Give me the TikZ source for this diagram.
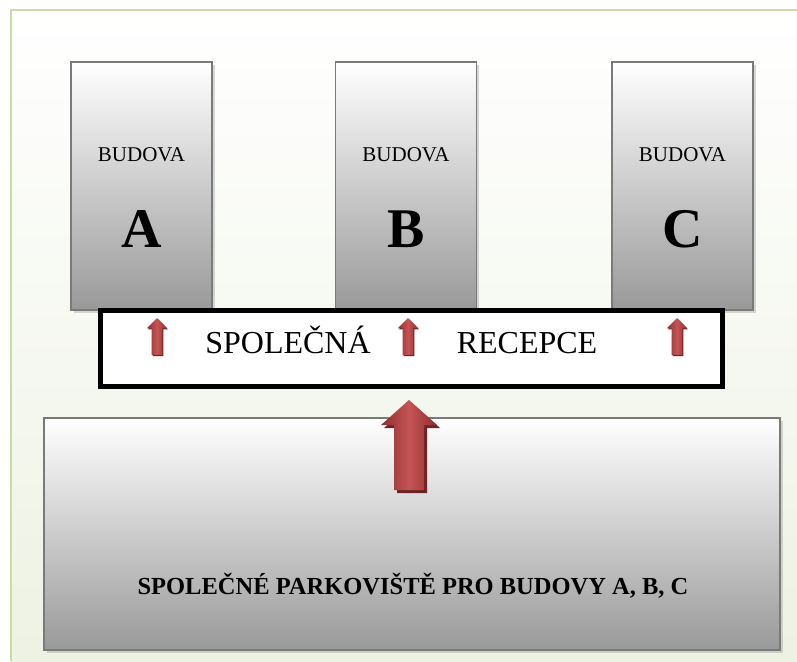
\documentclass[tikz,border=0pt]{standalone}
\usepackage{fontspec}
\setmainfont{Liberation Serif}
\usetikzlibrary{shadows}
\definecolor{framegreen}{HTML}{C9DBAA}
\definecolor{bgbottom}{HTML}{EDF2E3}
\definecolor{boxgray}{HTML}{7A7A7A}
\definecolor{arrowdark}{HTML}{8E2F2F}
\definecolor{arrowlight}{HTML}{C65454}
\definecolor{arrowshade}{HTML}{6E2424}
\tikzset{
    blockarrow/.pic={
        \fill[arrowshade] (3,3) -- (31,28) -- (18,28) -- (18,93) -- (-12,93) -- (-12,28) -- (-25,28) -- cycle;
        \path[left color=arrowdark, right color=arrowdark, middle color=arrowlight]
            (0,0) -- (28,25) -- (15,25) -- (15,90) -- (-15,90) -- (-15,25) -- (-28,25) -- cycle;
    }
}
\begin{document}
\begin{tikzpicture}[
        x=1pt, y=-1pt,
        semithick ,
        bldg/.style ={ draw=boxgray, line width=1.6pt, top color=white, bottom color=black!40,
            minimum width=141pt, minimum height=248pt, inner sep=0pt,
            drop shadow={opacity=.3, shadow xshift=2.5pt, shadow yshift=-2.5pt}},
        bldgname/.style ={ font=\fontsize{21}{24}\selectfont},
        bldgletter/.style ={ font=\fontsize{56}{60}\selectfont\bfseries},
        bigtext/.style ={ font=\fontsize{32}{36}\selectfont, anchor=base},
    ]
    \useasboundingbox (0,0) rectangle (797,661);
    % background
    \path[top color=white, bottom color=bgbottom] (11,10) rectangle (797,661);
    \draw[framegreen, line width=1.2pt] (11,661) -- (11,10) -- (797,10);

    % buildings
    \node[bldg] (bA) at (141.5,186) {};
    \node[bldg] (bB) at (406,186) {};
    \node[bldg] (bC) at (682.5,186) {};
    \foreach \b/\l in {bA/A, bB/B, bC/C} {
        \node[bldgname] at ([yshift=-94pt]\b.north) {BUDOVA};
        \node[bldgletter] at ([yshift=-168pt]\b.north) {\l};
    }

    % reception
    \node[draw=black, line width=5pt, fill=white, minimum width=622pt, minimum height=76pt] (recep) at (411.5,348.5) {};
    \node[bigtext] (tSpol) at (288,353) {SPOLEČNÁ};
    \node[bigtext] (tRec) at (527,353) {RECEPCE};
    \foreach \x in {157, 408, 677}
        \pic[xscale=.36, yscale=.41] at (\x,318) {blockarrow};

    % parking
    \node[draw=boxgray, line width=1.6pt, top color=white, bottom color=black!40,
        minimum width=736pt, minimum height=232pt,
        drop shadow={opacity=.3, shadow xshift=2.5pt, shadow yshift=-2.5pt}] (park) at (412,534) {};
    \node[font=\fontsize{24.5}{28}\selectfont\bfseries, anchor=base] (tPark) at (413,594) {SPOLEČNÉ PARKOVIŠTĚ PRO BUDOVY A, B, C};
    \pic at (409,400) {blockarrow};

\end{tikzpicture}
\end{document}
